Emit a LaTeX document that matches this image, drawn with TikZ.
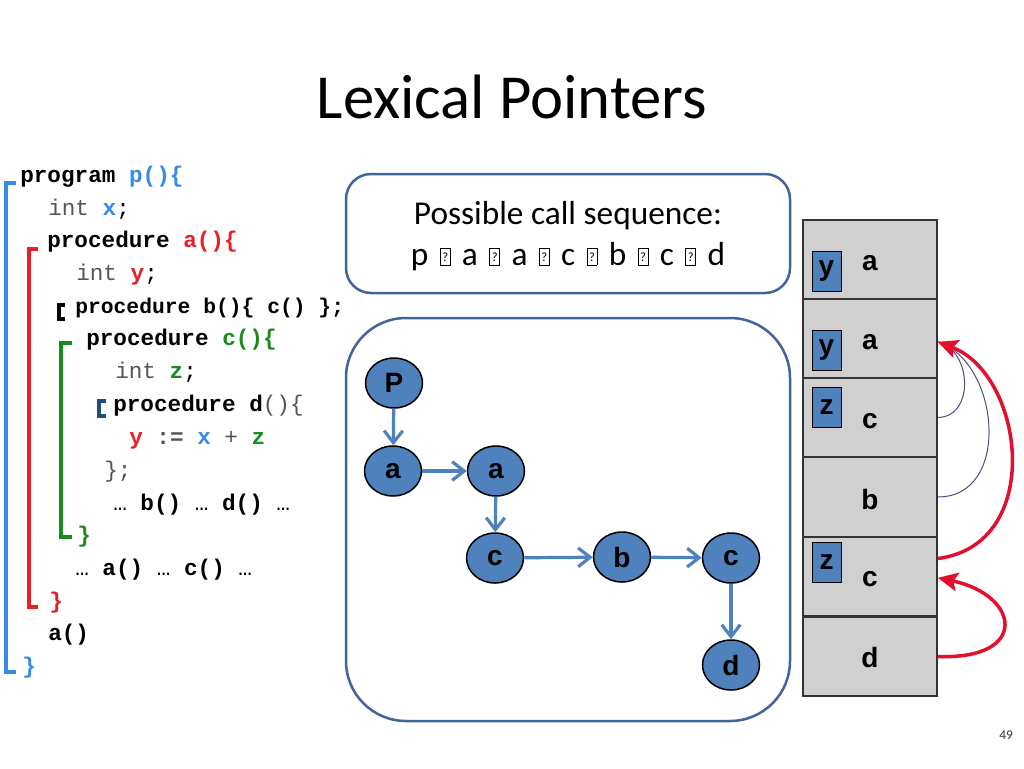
\documentclass[tikz,border=0pt]{standalone}
\usepackage{fontspec}
\setmainfont{Carlito}
\setmonofont{Liberation Mono}
\newfontfamily\arialf{Liberation Sans}
\usetikzlibrary{arrows.meta,shapes.geometric}
\newdimen\pxu \pxu=0.75pt
\definecolor{cblue}{RGB}{52,140,230}
\definecolor{cred}{RGB}{232,30,40}
\definecolor{cgreen}{RGB}{25,140,30}
\definecolor{cdblue}{RGB}{31,78,121}
\definecolor{cgray}{RGB}{85,85,85}
\definecolor{nodeblue}{RGB}{79,129,189}
\definecolor{boxline}{RGB}{65,100,155}
\definecolor{stackgray}{RGB}{208,208,208}
\definecolor{arcred}{RGB}{225,16,45}
\definecolor{thinline}{RGB}{75,79,127}
\newcommand\tofu{\raisebox{0pt}{\fboxsep=0pt\fboxrule=0.6pt\fbox{\makebox[7pt]{\rule{0pt}{12.5pt}\raisebox{2.5pt}{\fontsize{9.5}{9.5}\selectfont ?}}}}}
\newcommand\tsep{\hspace{8.5pt}\tofu\hspace{8.5pt}}
\begin{document}
\begin{tikzpicture}[x=0.75pt,y=-0.75pt,
  code/.style={anchor=base west,inner sep=0pt,font=\ttfamily\fontsize{17}{20}\selectfont,text=cgray},
  brk/.style={line width=4\pxu},
  cnode/.style={ellipse,draw=black,line width=1.5\pxu,fill=nodeblue,minimum width=57\pxu,minimum height=50\pxu,inner sep=0pt,font=\arialf\bfseries\fontsize{21}{21}\selectfont},
  flow/.style={draw=nodeblue,line width=3.2\pxu,-{Straight Barb[length=9pt,width=14pt]}},
  srow/.style={draw=black!80,line width=1.5\pxu,fill=stackgray,minimum width=134\pxu,minimum height=79\pxu,inner sep=0pt},
  slabel/.style={inner sep=0pt,font=\arialf\bfseries\fontsize{21}{21}\selectfont},
  vbox/.style={draw=black,line width=1\pxu,fill=nodeblue,minimum width=29\pxu,minimum height=40\pxu,inner sep=0pt,font=\arialf\bfseries\fontsize{21}{21}\selectfont},
  redarc/.style={draw=arcred,line width=3.5\pxu,-{Stealth[length=15pt,width=14pt,inset=3pt]}},
  thinarc/.style={draw=thinline,line width=1\pxu}
]
\useasboundingbox (0,0) rectangle (1024,768);

% title
\node[font=\fontsize{47}{50}\selectfont] (title) at (512,97) {Lexical Pointers};
\node[font=\fontsize{10}{10}\selectfont,text=black!80] (pnum) at (1006,735) {49};

% code
\node[code] (l1) at (20,182) {\textcolor{black}{\textbf{program }}\textcolor{cblue}{\textbf{p()\{}}};
\node[code] (l2) at (48,215) {int \textcolor{cblue}{\textbf{x}}\textcolor{black}{;}};
\node[code] (l3) at (47,247) {\textcolor{black}{\textbf{procedure }}\textcolor{cred}{\textbf{a()\{}}};
\node[code] (l4) at (76,280) {int \textcolor{cred}{\textbf{y}}\textcolor{black}{;}};
\node[code,font=\ttfamily\fontsize{16}{20}\selectfont] (l5) at (75,313) {\textcolor{black}{\textbf{procedure b()\{ c() \};}}};
\node[code] (l6) at (86,345) {\textcolor{black}{\textbf{procedure }}\textcolor{cgreen}{\textbf{c()\{}}};
\node[code] (l7) at (115,378) {int \textcolor{cgreen}{\textbf{z}}\textcolor{black}{;}};
\node[code] (l8) at (113,411) {\textcolor{black}{\textbf{procedure d}}()\{};
\node[code] (l9) at (129,444) {\textcolor{cred}{\textbf{y}} \textbf{:=} \textcolor{cblue}{\textbf{x}} + \textcolor{cgreen}{\textbf{z}}};
\node[code] (l10) at (104,477) {\};};
\node[code] (l11) at (113,510) {\textcolor{black}{… \textbf{b()} … \textbf{d()} …}};
\node[code] (l12) at (77,542) {\textcolor{cgreen}{\textbf{\}}}};
\node[code] (l13) at (75,575) {\textcolor{black}{… \textbf{a()} … \textbf{c()} …}};
\node[code] (l14) at (49,608) {\textcolor{cred}{\textbf{\}}}};
\node[code] (l15) at (48,640) {\textcolor{black}{\textbf{a()}}};
\node[code] (l16) at (22,673) {\textcolor{cblue}{\textbf{\}}}};

% brackets
\draw[brk,draw=cblue] (16,183) -- (6,183) -- (6,672) -- (16,672);
\draw[brk,draw=cred] (38,249) -- (29,249) -- (29,607) -- (38,607);
\draw[brk,draw=black] (65,305) -- (59,305) -- (59,319) -- (65,319);
\draw[brk,draw=cgreen] (72,343) -- (61,343) -- (61,537) -- (72,537);
\draw[brk,draw=cdblue] (106,401) -- (99,401) -- (99,416) -- (106,416);

% call sequence box
\draw[draw=boxline,line width=2.5\pxu,rounded corners=25\pxu] (346,174) rectangle (790,293);
\node[anchor=base,inner sep=0pt,font=\fontsize{25}{30}\selectfont] (seqa) at (568,224) {Possible call sequence:};
\node[anchor=base,inner sep=0pt,font=\fontsize{25}{30}\selectfont] (seqb) at (568,265) {p\tsep a\tsep a\tsep c\tsep b\tsep c\tsep d};

% call graph box
\draw[draw=boxline,line width=2.5\pxu,rounded corners=60\pxu] (346,318) rectangle (790,721);
\node[cnode] (P) at (394,383) {P};
\node[cnode] (a1) at (393,471) {a};
\node[cnode] (a2) at (496,471) {a};
\node[cnode] (c1) at (495,558) {c};
\node[cnode] (b) at (622,557) {b};
\node[cnode] (c2) at (731,558) {c};
\node[cnode] (d) at (731,665) {d};
\draw[flow] (P) -- (a1);
\draw[flow] (a1) -- (a2);
\draw[flow] (a2) -- (c1);
\draw[flow] (c1) -- (b);
\draw[flow] (b) -- (c2);
\draw[flow] (c2) -- (d);

% stack
\node[srow] (r1) at (870,259.5) {};
\node[srow] (r2) at (870,338.5) {};
\node[srow] (r3) at (870,417.5) {};
\node[srow] (r4) at (870,497) {};
\node[srow] (r5) at (870,576.5) {};
\node[srow] (r6) at (870,656.5) {};
\node[slabel] (t1) at (870,263) {a};
\node[slabel] (t2) at (870,342) {a};
\node[slabel] (t3) at (870,421) {c};
\node[slabel] (t4) at (870,499) {b};
\node[slabel] (t5) at (870,579) {c};
\node[slabel] (t6) at (870,657) {d};
\node[vbox] (vy1) at (826.5,271) {y};
\node[vbox] (vy2) at (826.5,350) {y};
\node[vbox] (vz1) at (826.5,407.5) {z};
\node[vbox] (vz2) at (826.5,562) {z};

% access links
\draw[thinarc] (r3.east) .. controls (975,417) and (972,350) .. ([yshift=-2.5pt]r2.east);
\draw[thinarc] (r4.east) .. controls (1012,497) and (1000,362) .. ([yshift=-2.5pt]r2.east);
\draw[redarc] ([yshift=13.5pt]r5.east) .. controls (1045,545) and (1025,375) .. ([yshift=-2.5pt]r2.east);
\draw[redarc] (r6.east) .. controls (1030,660) and (1020,595) .. ([yshift=-1pt]r5.east);
\end{tikzpicture}
\end{document}
